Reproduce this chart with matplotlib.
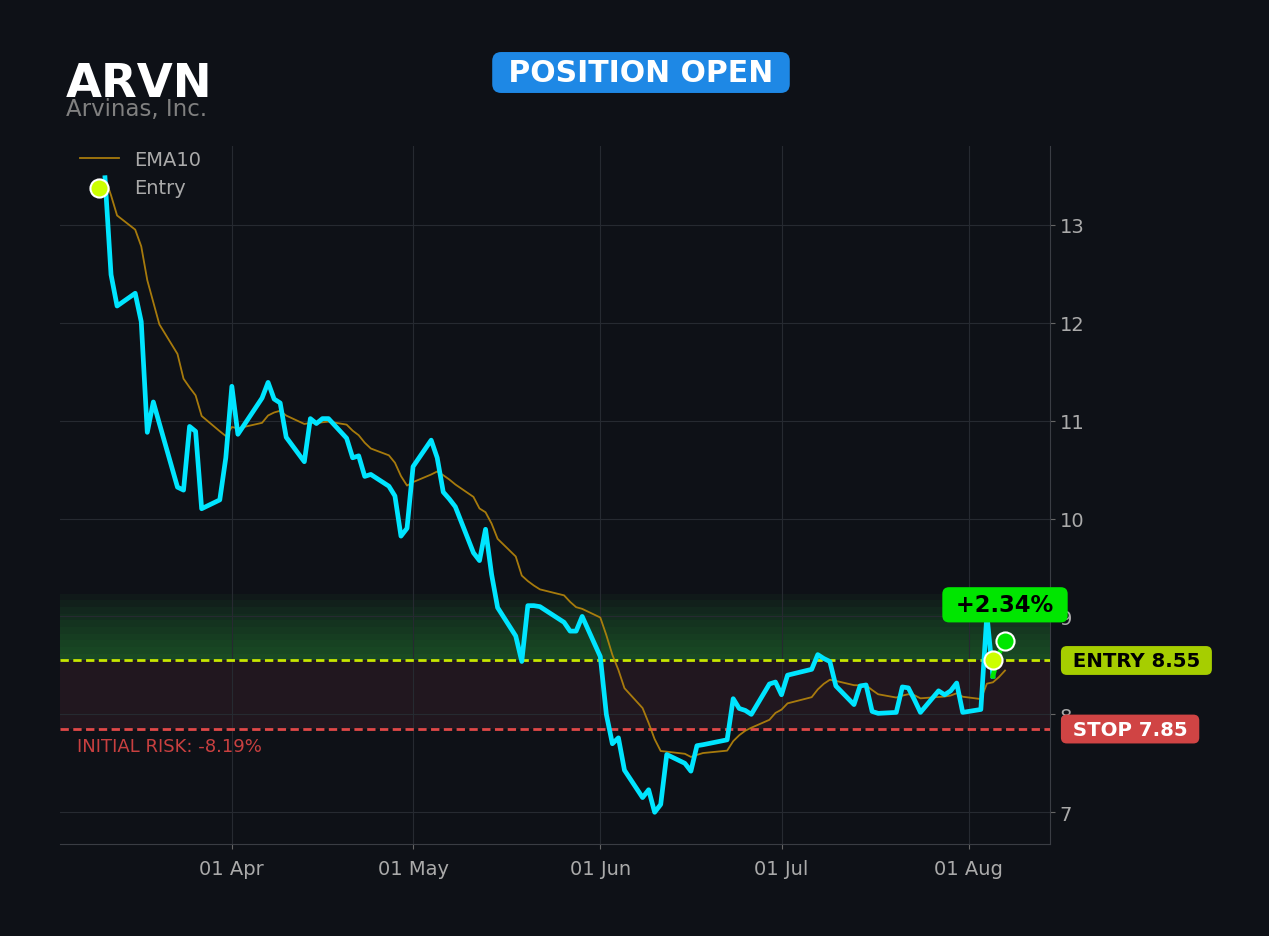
import matplotlib
matplotlib.use('Agg')
import matplotlib.pyplot as plt
import matplotlib.dates as mdates
import matplotlib.transforms as mtransforms
import pandas as pd

BG = '#0e1117'

ticker = 'ARVN'
company = 'Arvinas, Inc.'
status = 'POSITION OPEN'
entry_price = 8.55
stop_price = 7.85
entry_date = '2026-08-05'
pnl_label = '+2.34%'
risk_label = 'INITIAL RISK: -8.19%'

start_date = '2026-03-11'
end_date = '2026-08-07'
holidays = ['2026-04-03', '2026-05-25', '2026-06-19', '2026-07-03']

close_mar = [13.48, 12.49, 12.17, 12.30, 12.01, 10.88, 11.19, 10.97, 10.32, 10.29,
             10.94, 10.89, 10.10, 10.19, 10.62]
close_apr = [11.35, 10.86, 11.23, 11.39, 11.22, 11.18, 10.83, 10.58, 11.02, 10.97,
             11.02, 11.02, 10.82, 10.62, 10.64, 10.43, 10.45, 10.33, 10.23, 9.82, 9.90]
close_may = [10.53, 10.80, 10.62, 10.27, 10.20, 10.12, 9.65, 9.57, 9.89, 9.43,
             9.09, 8.80, 8.54, 9.11, 9.11, 9.10, 8.94, 8.85, 8.85, 9.00]
close_jun = [8.59, 8.00, 7.70, 7.76, 7.43, 7.15, 7.23, 7.00, 7.08, 7.59,
             7.50, 7.42, 7.68, 7.69, 7.74, 8.16, 8.06, 8.04, 8.00, 8.31, 8.33]
close_jul = [8.20, 8.40, 8.46, 8.61, 8.57, 8.54, 8.29, 8.10, 8.29, 8.30,
             8.03, 8.01, 8.02, 8.28, 8.27, 8.15, 8.02, 8.24, 8.20, 8.24, 8.32, 8.02]
close_aug = [8.05, 9.02, 8.39, 8.62, 8.75]

closes = close_mar + close_apr + close_may + close_jun + close_jul + close_aug
dates = pd.bdate_range(start_date, end_date, freq='C', holidays=holidays)
close = pd.Series(closes, index=dates)
ema10 = close.ewm(span=10, adjust=False).mean()

fig = plt.figure(figsize=(12.69, 9.37), dpi=100, facecolor=BG)
ax = fig.add_axes([60 / 1269, 1 - 845 / 937, 990 / 1269, (845 - 147) / 937])
ax.set_facecolor(BG)

# zones
ax.axhspan(stop_price, entry_price, color='#5a2a38', alpha=0.25, lw=0, zorder=1)
n_bands = 10
band_h = (entry_price * 1.08 - entry_price) / n_bands
for k in range(1, n_bands + 1):
    ax.axhspan(entry_price, entry_price + k * band_h, color='#2e8b3a', alpha=0.065,
               lw=0, zorder=1)

ax.axhline(entry_price, color='#c8e600', lw=2, dashes=(3, 1.6), zorder=3)
ax.axhline(stop_price, color='#e04848', lw=2, dashes=(3, 1.6), zorder=3)

ed = pd.Timestamp(entry_date)
pre = close[close.index <= ed]
post = close[close.index >= ed]
ax.plot(ema10.index, ema10.values, color='#b8860b', lw=1.3, alpha=0.9, zorder=4, label='EMA10')
ax.plot(pre.index, pre.values, color='#00e5ff', lw=3.4, zorder=5)
ax.plot(post.index, post.values, color='#00e600', lw=3.4, zorder=5)

ax.scatter([ed], [entry_price], s=170, color='#ccff00', edgecolor='white', lw=1.5,
           zorder=7, label='Entry')
ax.scatter([close.index[-1]], [close.iloc[-1]], s=170, color='#00e600', edgecolor='white',
           lw=1.5, zorder=7)

# axes styling
ax.yaxis.tick_right()
ax.xaxis.set_major_locator(mdates.MonthLocator())
ax.xaxis.set_major_formatter(mdates.DateFormatter('%d %b'))
ax.tick_params(colors='#666666', labelcolor='#aaaaaa', labelsize=14)
ax.tick_params(axis='x', pad=7)
ax.grid(True, color='#262a31', lw=0.8)
for s in ['left', 'top']:
    ax.spines[s].set_visible(False)
for s in ['bottom', 'right']:
    ax.spines[s].set_color('#3a3d44')

leg = ax.legend(loc='upper left', bbox_to_anchor=(0.012, 1.006), borderaxespad=0,
                frameon=False, fontsize=14, labelcolor='#aaaaaa')

# labels
ax.annotate(' ' + pnl_label + ' ', xy=(close.index[-1], close.iloc[-1]), xytext=(0, 26),
            textcoords='offset points', ha='center', va='center', fontsize=16.3,
            fontweight='bold', color='black', zorder=10, annotation_clip=False,
            bbox=dict(boxstyle='round,pad=0.27,rounding_size=0.3', fc='#00e600', ec='none'))

trans = mtransforms.blended_transform_factory(ax.transAxes, ax.transData)
ax.text(1.016, entry_price, ' ENTRY %.2f ' % entry_price, transform=trans, ha='left',
        va='center', fontsize=14.2, fontweight='bold', color='black', clip_on=False,
        bbox=dict(boxstyle='round,pad=0.25,rounding_size=0.3', fc='#a6ce00', ec='none'))
ax.text(1.016, stop_price, ' STOP %.2f ' % stop_price, transform=trans, ha='left',
        va='center', fontsize=14.2, fontweight='bold', color='white', clip_on=False,
        bbox=dict(boxstyle='round,pad=0.25,rounding_size=0.3', fc='#d04444', ec='none'))
ax.annotate(risk_label, xy=(0.017, stop_price), xycoords=trans, xytext=(0, -12.5),
            textcoords='offset points', ha='left', va='center', fontsize=13,
            color='#c94040')

fig.text(66 / 1269, 1 - 97 / 937, ticker, fontsize=33.5, fontweight='bold', color='white',
         ha='left', va='baseline')
fig.text(66 / 1269, 1 - 116 / 937, company, fontsize=16.5, color='#808080',
         ha='left', va='baseline')
fig.text(641 / 1269, 1 - 73.5 / 937, ' ' + status + ' ', fontsize=21.5, fontweight='bold',
         color='white', ha='center', va='center',
         bbox=dict(boxstyle='round,pad=0.2,rounding_size=0.3', fc='#1e88e5', ec='none'))

fig.savefig('out.png', dpi=100, facecolor=BG)
